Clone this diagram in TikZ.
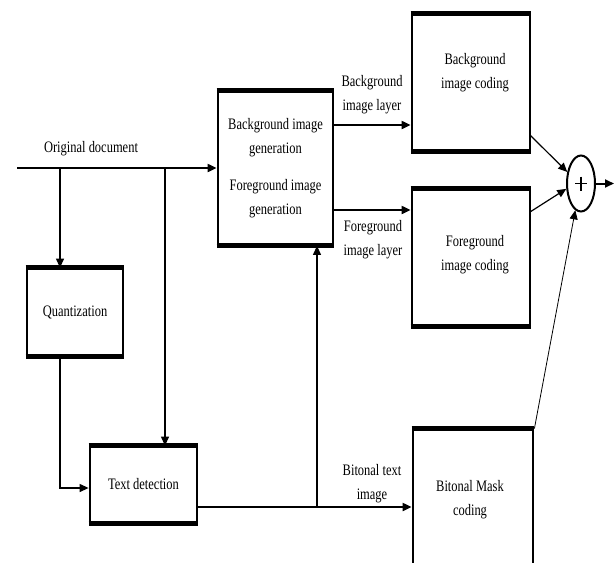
\documentclass[tikz,border=0pt]{standalone}
\usepackage{fontspec}
\setmainfont[FakeStretch=0.78]{Liberation Serif}
\usetikzlibrary{arrows.meta,shapes.geometric,calc}
\begin{document}
\begin{tikzpicture}[x=1pt,y=-1pt,
  every node/.style={font=\fontsize{16}{24}\selectfont},
  blk/.style={draw,line width=2.8pt,align=center,inner sep=0pt},
  tip/.style={-{Triangle[length=9pt,width=8pt]}},
  thick1/.style={line width=2pt},
  thin1/.style={line width=1.2pt},
  lbl/.style={align=center,inner sep=0pt}]
\useasboundingbox (0,0) rectangle (614,563);
\clip (0,0) rectangle (614,563);
% boxes
\node[blk,minimum width=115pt,minimum height=153pt] (bgg) at (275.5,168) {Background image\\generation\\[13pt]Foreground image\\generation};
\node[blk,minimum width=96pt,minimum height=86pt] (q) at (75,312) {Quantization};
\node[blk,minimum width=107pt,minimum height=75pt] (td) at (143.5,484.5) {Text detection};
\node[blk,minimum width=118pt,minimum height=135pt] (bgc) at (471,82.5) {};
\node[lbl] at (475,73) {Background\\image coding};
\node[blk,minimum width=118pt,minimum height=135pt] (fgc) at (471,257.5) {};
\node[lbl] at (475,255) {Foreground\\image coding};
\node[blk,minimum width=120pt,minimum height=150pt] (bm) at (473,505) {};
\node[lbl] at (470,500) {Bitonal Mask\\coding};
\foreach \n in {bgg,q,td,bgc,fgc,bm}
  \draw[line width=4.5pt] (\n.north west) -- (\n.north east) (\n.south west) -- (\n.south east);
\node[draw,ellipse,line width=2pt,minimum width=28pt,minimum height=56pt,inner sep=0pt] (sum) at (581,183.5) {};
\draw[line width=1.5pt] (sum.center) ++(-6,0) -- ++(12,0) (sum.center) ++(0,-7) -- ++(0,14);
% labels
\node[lbl] (odl) at (91,149) {Original document};
\node[lbl] (bgl) at (372,95) {Background\\image layer};
\node[lbl] (fgl) at (373,240) {Foreground\\image layer};
\node[lbl] (btl) at (372,484) {Bitonal text\\image};
% coordinates
\coordinate (start) at (17,168);
\coordinate (j1) at (60,168);
\coordinate (j2) at (165,168);
\coordinate (qin) at (60,488);
\coordinate (tdo) at (197,507);
\coordinate (j3) at (317,507);
\coordinate (bgo) at (333,125);
\coordinate (fgo) at (333,210);
\coordinate (bco) at (530,135);
\coordinate (fco) at (530,212);
\coordinate (out) at (614,183.5);
% connectors
\draw[thick1,tip] (start) -- (bgg.west);
\draw[thin1,tip] (j1) -- (j1 |- q.north);
\draw[thin1,tip] (j2) -- (j2 |- td.north);
\draw[thin1,tip] (j1 |- q.south) -- (qin) -- (qin -| td.west);
\draw[thick1,tip] (tdo) -- (tdo -| bm.west);
\draw[thin1,tip] (j3) -- (j3 |- bgg.south);
\draw[thick1,tip] (bgo) -- (bgo -| bgc.west);
\draw[thick1,tip] (fgo) -- (fgo -| fgc.west);
\draw[thin1,tip] (bco) -- (sum.140);
\draw[thin1,tip] (fco) -- (sum.200);
\draw[line width=0.8pt,tip] (bm.north east) -- (sum.258);
\draw[thick1,tip] (sum.east) -- (out);
\end{tikzpicture}
\end{document}
